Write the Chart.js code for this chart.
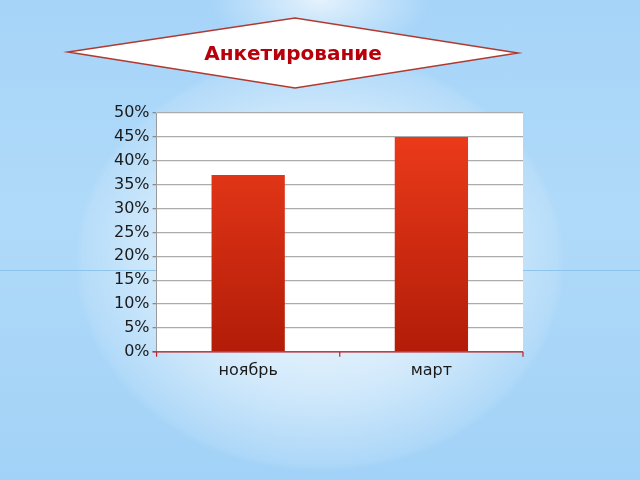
<!DOCTYPE html>
<html>
<head>
<meta charset="utf-8">
<script src="https://cdn.jsdelivr.net/npm/chart.js@4"></script>
<style>
  html, body { margin: 0; padding: 0; }
  body {
    width: 640px; height: 480px; overflow: hidden;
    background:
      radial-gradient(ellipse 245px 210px at 320px 262px, rgba(255,255,255,0.92) 0%, rgba(255,255,255,0.5) 60%, rgba(255,255,255,0.1) 97%, rgba(255,255,255,0) 100%),
      radial-gradient(ellipse 110px 55px at 320px 0px, rgba(255,255,255,0.7) 0%, rgba(255,255,255,0) 100%),
      linear-gradient(180deg, #a6d4f8 0%, #b0daf9 45%, #a2d2f7 100%);
  }
  #wrap { position: relative; width: 640px; height: 480px; }
  #band { position: absolute; left: 0; top: 270px; width: 640px; height: 1px; background: #8cc4ee; }
</style>
</head>
<body>
<div id="wrap">
  <div id="band"></div>
  <canvas id="chart" width="640" height="480" style="position:absolute;left:0;top:0"></canvas>
</div>
<script>
let months = ["ноябрь", "март"];
let percents = [37, 45];
let yTicks = [0, 5, 10, 15, 20, 25, 30, 35, 40, 45, 50];
let titleText = "Анкетирование";

// white plot area, diamond title box, red x axis
let decor = {
  id: "decor",
  beforeDraw(c) {
    let ctx = c.ctx;
    let a = c.chartArea;
    ctx.save();
    ctx.fillStyle = "#ffffff";
    ctx.fillRect(a.left, a.top, a.right - a.left, a.bottom - a.top);

    ctx.beginPath();
    ctx.moveTo(68, 52);
    ctx.lineTo(295, 18);
    ctx.lineTo(518, 53);
    ctx.lineTo(295, 88);
    ctx.closePath();
    ctx.fillStyle = "#ffffff";
    ctx.fill();
    ctx.strokeStyle = "#b03a30";
    ctx.lineWidth = 1.5;
    ctx.stroke();

    ctx.fillStyle = "#b8000a";
    ctx.font = "bold 20px 'DejaVu Sans'";
    ctx.textAlign = "center";
    ctx.textBaseline = "middle";
    ctx.fillText(titleText, 293, 55);
    ctx.restore();
  },
  afterDatasetsDraw(c) {
    let ctx = c.ctx;
    let a = c.chartArea;
    ctx.save();
    ctx.strokeStyle = "#c0202a";
    ctx.lineWidth = 1.2;
    ctx.beginPath();
    ctx.moveTo(a.left - 4, a.bottom);
    ctx.lineTo(a.right, a.bottom);
    let step = (a.right - a.left) / months.length;
    for (let i = 0; i <= months.length; i++) {
      let px = a.left + step * i;
      ctx.moveTo(px, a.bottom);
      ctx.lineTo(px, a.bottom + 5);
    }
    ctx.stroke();
    ctx.restore();
  }
};

let ctx = document.getElementById("chart").getContext("2d");

function barFill(context) {
  let c = context.chart;
  let a = c.chartArea;
  if (!a) return "#d02a10";
  let g = c.ctx.createLinearGradient(0, c.scales.y.getPixelForValue(45), 0, a.bottom);
  g.addColorStop(0, "#ea3a1a");
  g.addColorStop(1, "#b21c08");
  return g;
}

new Chart(ctx, {
  type: "bar",
  data: {
    labels: months,
    datasets: [{
      data: percents,
      backgroundColor: barFill,
      borderWidth: 0,
      categoryPercentage: 0.8,
      barPercentage: 0.5
    }]
  },
  options: {
    responsive: false,
    animation: false,
    devicePixelRatio: 1,
    layout: { padding: { left: 111, right: 117, top: 113, bottom: 91 } },
    plugins: {
      legend: { display: false },
      title: { display: false },
      tooltip: { enabled: false }
    },
    scales: {
      x: {
        grid: { display: false, drawTicks: false },
        border: { display: false },
        ticks: {
          color: "#1a1a1a",
          font: { family: "DejaVu Sans", size: 16 },
          padding: 9
        }
      },
      y: {
        min: 0,
        max: 50,
        afterBuildTicks(s) { s.ticks = yTicks.map(v => ({ value: v })); },
        grid: {
          color: "#ababab",
          lineWidth: 1.3,
          tickLength: 4,
          tickColor: "#8a8a8a"
        },
        border: { display: true, color: "#9a9a9a", width: 1 },
        ticks: {
          color: "#1a1a1a",
          font: { family: "DejaVu Sans", size: 16 },
          padding: 3,
          callback: v => v + "%"
        }
      }
    }
  },
  plugins: [decor]
});
</script>
</body>
</html>
